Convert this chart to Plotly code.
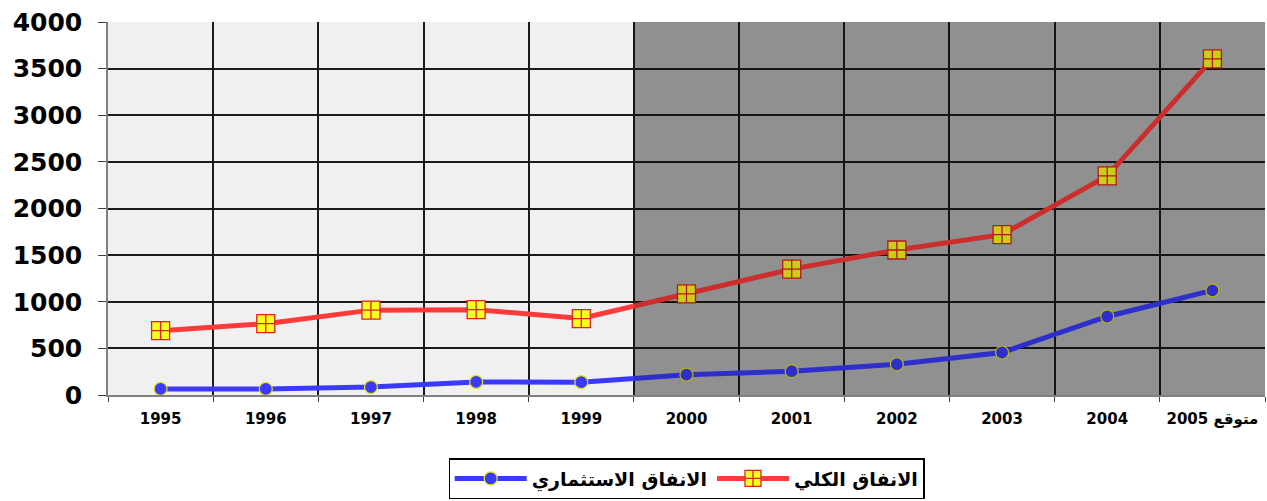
import plotly.graph_objects as go

years = ["1995", "1996", "1997", "1998", "1999", "2000", "2001", "2002", "2003", "2004", "2005 متوقع"]
total_spending = [690, 765, 910, 915, 820, 1085, 1350, 1555, 1720, 2350, 3605]
invest_spending = [65, 65, 85, 140, 138, 218, 255, 330, 456, 842, 1122]
name_total = "الانفاق الكلي"
name_invest = "الانفاق الاستثماري"
y_ticks = [0, 500, 1000, 1500, 2000, 2500, 3000, 3500, 4000]
forecast_start = "2000"

fig = go.Figure()
fig.add_trace(go.Scatter(
    x=years, y=invest_spending, name=name_invest, mode="lines+markers",
    line=dict(color="#3a3aff", width=5),
    marker=dict(symbol="circle", size=13, color="#3a3aff", line=dict(color="#e8e800", width=1.2)),
))
fig.add_trace(go.Scatter(
    x=years, y=total_spending, name=name_total, mode="lines+markers",
    line=dict(color="#ff3a3a", width=5),
    marker=dict(symbol="square-cross", size=18, color="#ffff22", line=dict(color="#e02020", width=1.3)),
))

split = years.index(forecast_start) - 0.5
end = len(years) - 0.5
fig.add_shape(type="rect", xref="x", yref="paper", x0=split, x1=end, y0=0, y1=1,
              fillcolor="#b4b4b4", line=dict(width=0), layer="below")
fig.add_shape(type="rect", xref="x", yref="paper", x0=split, x1=end, y0=0, y1=1,
              fillcolor="black", opacity=0.2, line=dict(width=0), layer="above")

fig.update_layout(
    width=1267, height=501,
    margin=dict(l=108, r=2, t=22, b=106, autoexpand=False),
    paper_bgcolor="white", plot_bgcolor="#f0f0f0",
    font=dict(family="DejaVu Sans", color="black"),
    showlegend=True,
    legend=dict(orientation="h", x=0.5, xanchor="center", y=-0.17, yanchor="top",
                bgcolor="white", bordercolor="black", borderwidth=1.2,
                font=dict(size=19, family="DejaVu Sans", weight="bold"),
                itemwidth=72, traceorder="normal"),
)
fig.update_xaxes(
    type="category", range=[-0.5, end], tickson="boundaries", automargin=False,
    showgrid=True, gridcolor="#1a1a1a", gridwidth=1.5,
    showline=True, linecolor="#808080", linewidth=1.5,
    ticks="outside", ticklen=5, tickcolor="#404040",
    tickfont=dict(size=15, family="DejaVu Sans", weight="bold"),
    ticklabelstandoff=9,
)
fig.update_yaxes(
    range=[0, 4000], tickvals=y_ticks, automargin=False,
    showgrid=True, gridcolor="#1a1a1a", gridwidth=1.5, zeroline=False,
    showline=True, linecolor="#808080", linewidth=1.5,
    ticks="outside", ticklen=8, tickcolor="#404040",
    tickfont=dict(size=25, family="DejaVu Sans", weight="bold"),
    ticklabelstandoff=11,
)

fig.write_html("out.html", config={"displayModeBar": False},
               post_script="document.body.style.margin='0';document.body.style.overflow='hidden';")
